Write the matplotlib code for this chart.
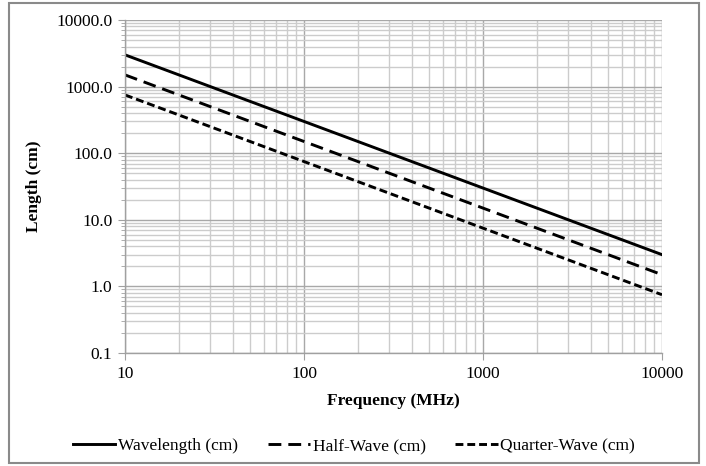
import matplotlib
matplotlib.use("Agg")
import matplotlib.pyplot as plt
from matplotlib.patches import Rectangle
from matplotlib.ticker import FixedLocator, FixedFormatter, LogLocator, NullFormatter

frequency_mhz = [10, 100, 1000, 10000]
wavelength_cm = [2998.0, 299.8, 29.98, 2.998]
half_wave_cm = [1499.0, 149.9, 14.99, 1.499]
quarter_wave_cm = [749.5, 74.95, 7.495, 0.7495]

x_ticks = [10, 100, 1000, 10000]
x_tick_labels = ["10", "100", "1000", "10000"]
y_ticks = [0.1, 1, 10, 100, 1000, 10000]
y_tick_labels = ["0.1", "1.0", "10.0", "100.0", "1000.0", "10000.0"]

plt.rcParams['font.family'] = ['Liberation Serif', 'DejaVu Serif']

fig = plt.figure(figsize=(7.06, 4.66), dpi=100)
ax = fig.add_axes([125/706, 1-353/466, (662-125)/706, (353-20)/466])

ax.set_xscale('log')
ax.set_yscale('log')
ax.set_xlim(10, 10000)
ax.set_ylim(0.1, 10000)

LW = 2.1
ax.plot(frequency_mhz, wavelength_cm, color='black', lw=LW, label='Wavelength (cm)')
ax.plot(frequency_mhz, half_wave_cm, color='black', lw=LW, dashes=(4.4, 2.4), label='Half-Wave (cm)')
ax.plot(frequency_mhz, quarter_wave_cm, color='black', lw=LW, dashes=(2.7, 1.35), label='Quarter-Wave (cm)')

ax.xaxis.set_major_locator(FixedLocator(x_ticks))
ax.xaxis.set_major_formatter(FixedFormatter(x_tick_labels))
ax.yaxis.set_major_locator(FixedLocator(y_ticks))
ax.yaxis.set_major_formatter(FixedFormatter(y_tick_labels))
ax.xaxis.set_minor_locator(LogLocator(base=10, subs=range(2, 10)))
ax.yaxis.set_minor_locator(LogLocator(base=10, subs=range(2, 10)))
ax.xaxis.set_minor_formatter(NullFormatter())
ax.yaxis.set_minor_formatter(NullFormatter())

ax.grid(which='major', color='#a8a8a8', lw=1.0)
ax.grid(which='minor', color='#cccccc', lw=1.0)
ax.set_axisbelow(True)

for s in ['top', 'right']:
    ax.spines[s].set_visible(False)
for s in ['left', 'bottom']:
    ax.spines[s].set_color('#a0a0a0')
    ax.spines[s].set_linewidth(1.0)

ax.tick_params(which='major', direction='out', length=5, color='#a0a0a0', labelsize=12.5, pad=4)
ax.tick_params(axis='y', which='minor', direction='out', length=3, color='#a0a0a0')
ax.tick_params(axis='x', which='minor', length=0)

ax.set_xlabel('Frequency (MHz)', fontsize=12.5, fontweight='bold', labelpad=8)
ax.set_ylabel('Length (cm)', fontsize=12.5, fontweight='bold', labelpad=10)

handles, labels = ax.get_legend_handles_labels()
fig.legend(handles, labels, loc='center', bbox_to_anchor=(354/706, 1-446/466), ncol=3,
           frameon=False, fontsize=12.5, handlelength=2.45, handletextpad=0.15,
           columnspacing=1.7, borderaxespad=0, borderpad=0)

fig.patches.append(Rectangle((9/706, 1-463/466), (699-9)/706, (463-3)/466,
                             transform=fig.transFigure, fill=False, edgecolor='#8a8a8a', lw=1.5))

fig.savefig('out.png', dpi=100)
